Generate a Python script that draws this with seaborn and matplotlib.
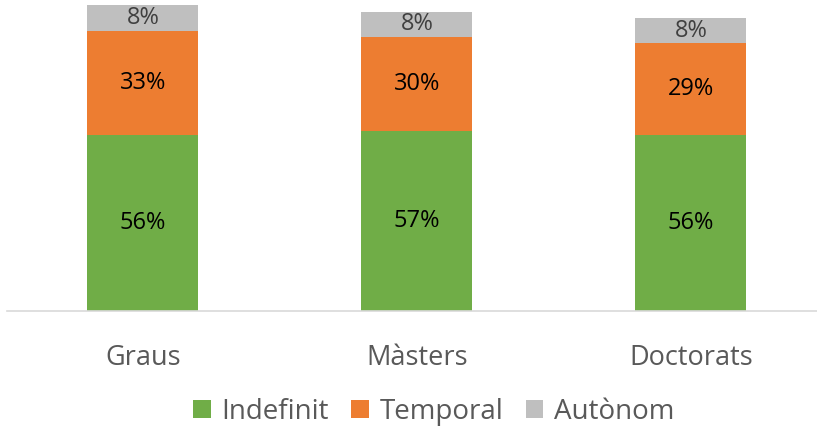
import pandas as pd
import matplotlib
matplotlib.use("Agg")
import matplotlib.pyplot as plt
import seaborn as sns

# data --------------------------------------------------------------
categories = ["Graus", "Màsters", "Doctorats"]
indefinit = [56, 57, 56]
temporal = [33, 30, 29]
autonom = [8, 8, 8]

series_names = ["Indefinit", "Temporal", "Autònom"]
colors = ["#70AD47", "#ED7D31", "#BFBFBF"]
label_colors = ["black", "black", "#404040"]

sns.set_style("white")
plt.rcParams["font.family"] = ["Open Sans", "DejaVu Sans"]

df = pd.DataFrame({"cat": categories, "Indefinit": indefinit,
                   "Temporal": temporal, "Autònom": autonom})

fig = plt.figure(figsize=(8.17, 4.30), dpi=100)
ax = fig.add_axes([7 / 817, 119 / 430, 810 / 817, 311 / 430])

# stacked bars, one seaborn call per series
bottom = [0, 0, 0]
for name, col, lc in zip(series_names, colors, label_colors):
    sns.barplot(df, x="cat", y=name, color=col, width=0.405, saturation=1,
                bottom=bottom, label=name, ax=ax, linewidth=0)
    cont = ax.containers[-1]
    ax.bar_label(cont, labels=[f"{v}%" for v in df[name]],
                 label_type="center", fontsize=17, color=lc)
    bottom = [b + v for b, v in zip(bottom, df[name])]

ax.set_xlim(-0.496, 2.46)
ax.set_ylim(0, 98.7)
ax.set_xlabel("")
ax.set_ylabel("")
ax.set_yticks([])
ax.tick_params(axis="x", length=0, labelsize=19.5, labelcolor="#595959", pad=24)
for s in ["top", "right", "left"]:
    ax.spines[s].set_visible(False)
ax.spines["bottom"].set_color("#D9D9D9")
ax.spines["bottom"].set_linewidth(1.2)

ax.legend(loc="center", bbox_to_anchor=(434 / 817, 18 / 430),
          bbox_transform=fig.transFigure, ncol=3, frameon=False,
          fontsize=20, labelcolor="#595959", handlelength=0.62,
          handleheight=0.62, handletextpad=0.4, columnspacing=0.8)

fig.savefig("out.png", dpi=100)
